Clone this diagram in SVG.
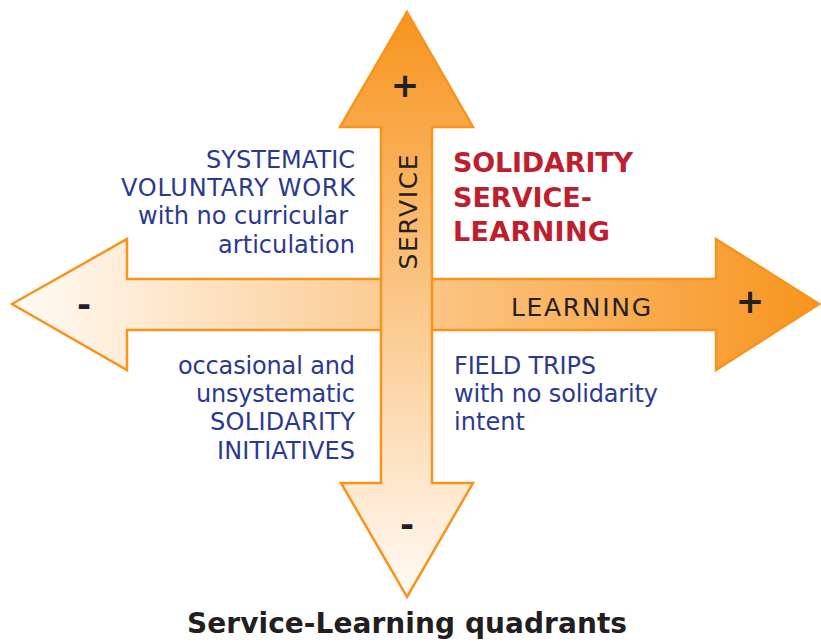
<svg xmlns="http://www.w3.org/2000/svg" width="821" height="644" viewBox="0 0 821 644">
<defs>
<linearGradient id="gv" gradientUnits="userSpaceOnUse" x1="0" y1="12" x2="0" y2="597">
<stop offset="0" stop-color="#F7941D"/>
<stop offset="1" stop-color="#FFFBF6"/>
</linearGradient>
<linearGradient id="gh" gradientUnits="userSpaceOnUse" x1="12" y1="0" x2="821" y2="0">
<stop offset="0" stop-color="#FFFBF6"/>
<stop offset="1" stop-color="#F7941D"/>
</linearGradient>
<style>
.arr{stroke:#F7941D;stroke-width:2.5;stroke-linejoin:miter}
.t{font-family:"DejaVu Sans","Noto Sans",sans-serif;font-size:24px;fill:#2B3990}
.r{font-family:"DejaVu Sans","Noto Sans",sans-serif;font-size:27px;font-weight:bold;fill:#BE1E2D}
.k{font-family:"DejaVu Sans","Noto Sans",sans-serif;font-size:25px;fill:#231F20}
.sign{font-family:"DejaVu Sans","Noto Sans",sans-serif;font-size:34px;font-weight:bold;fill:#231F20;text-anchor:middle}
.title{font-family:"DejaVu Sans","Noto Sans",sans-serif;font-size:28px;font-weight:bold;fill:#231F20;text-anchor:middle}
</style>
</defs>
<g id="connectors">
<g id="learning-axis">
<polygon class="arr" fill="url(#gh)" points="12,304 127,239 127,279 716,279 716,239 819,304 716,370 716,330 127,330 127,370"/>
</g>
<g id="service-axis">
<polygon class="arr" fill="url(#gv)" points="407,12 473,127 432,127 432,483 473,483 407,597 341,483 381,483 381,127 340,127"/>
</g>
</g>
<g id="signs">
<text class="sign" x="405" y="97">+</text>
<text class="sign" x="750" y="313">+</text>
<text class="sign" x="84" y="316">-</text>
<text class="sign" x="407" y="536">-</text>
</g>
<g id="axis-labels">
<text class="k" x="511" y="316" textLength="140">LEARNING</text>
<text class="k" transform="translate(417,212) rotate(-90)" text-anchor="middle" textLength="115">SERVICE</text>
</g>
<g id="q-top-left" text-anchor="end">
<text class="t" x="355" y="168" textLength="149">SYSTEMATIC</text>
<text class="t" x="355" y="196" textLength="234">VOLUNTARY WORK</text>
<text class="t" x="348" y="224" textLength="210">with no curricular</text>
<text class="t" x="355" y="253" textLength="137">articulation</text>
</g>
<g id="q-top-right">
<text class="r" x="453" y="172" textLength="180">SOLIDARITY</text>
<text class="r" x="453" y="207" textLength="139">SERVICE-</text>
<text class="r" x="453" y="241" textLength="157">LEARNING</text>
</g>
<g id="q-bottom-left" text-anchor="end">
<text class="t" x="355" y="374" textLength="177">occasional and</text>
<text class="t" x="355" y="402" textLength="159">unsystematic</text>
<text class="t" x="355" y="430" textLength="145">SOLIDARITY</text>
<text class="t" x="355" y="459" textLength="138">INITIATIVES</text>
</g>
<g id="q-bottom-right">
<text class="t" x="454" y="374" textLength="142">FIELD TRIPS</text>
<text class="t" x="454" y="402" textLength="204">with no solidarity</text>
<text class="t" x="454" y="430" textLength="71">intent</text>
</g>
<text class="title" x="407" y="633" textLength="440">Service-Learning quadrants</text>
</svg>
